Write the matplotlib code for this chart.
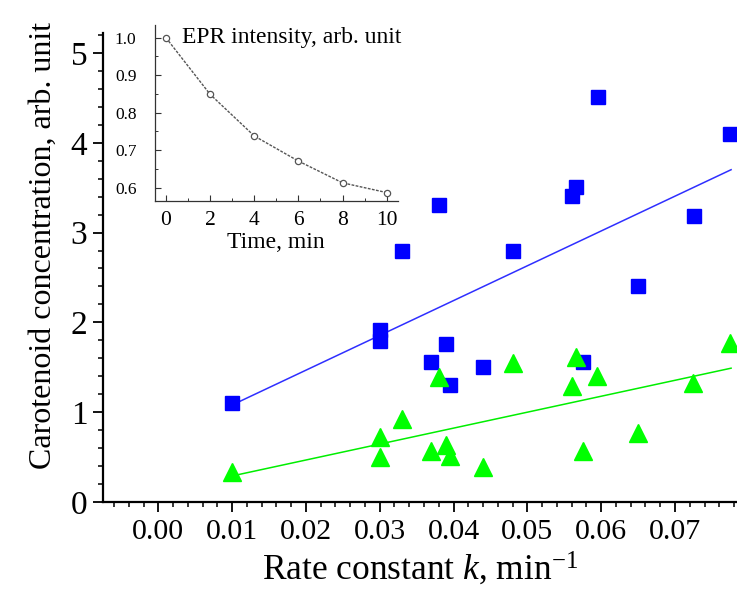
import matplotlib
matplotlib.use("Agg")
import matplotlib.pyplot as plt
from matplotlib.ticker import MultipleLocator, FixedLocator

plt.rcParams['font.family'] = ['Liberation Serif', 'DejaVu Serif']
plt.rcParams['mathtext.fontset'] = 'custom'
plt.rcParams['mathtext.rm'] = 'Liberation Serif'
plt.rcParams['mathtext.it'] = 'Liberation Serif:italic'

# ---- data ----
blue_k = [0.010, 0.030, 0.030, 0.033, 0.037, 0.038, 0.039, 0.0395, 0.044,
          0.048, 0.056, 0.0566, 0.0575, 0.0596, 0.065, 0.0726, 0.0775]
blue_c = [1.10, 1.92, 1.79, 2.80, 1.556, 3.31, 1.76, 1.303, 1.507,
          2.80, 3.41, 3.51, 1.556, 4.51, 2.40, 3.18, 4.10]
green_k = [0.010, 0.030, 0.030, 0.033, 0.037, 0.038, 0.039, 0.0395, 0.044,
           0.048, 0.056, 0.0566, 0.0575, 0.0595, 0.065, 0.0725, 0.0775]
green_c = [0.33, 0.72, 0.505, 0.92, 0.571, 1.389, 0.635, 0.512, 0.393,
           1.55, 1.29, 1.62, 0.571, 1.40, 0.765, 1.33, 1.77]
fit_k = [0.010, 0.0776]
blue_fit = [1.08, 3.70]
green_fit = [0.29, 1.49]

time_min = [0, 2, 4, 6, 8, 10]
epr = [1.0, 0.849, 0.738, 0.671, 0.613, 0.587]

x_ticks = [0.00, 0.01, 0.02, 0.03, 0.04, 0.05, 0.06, 0.07]
y_ticks = [0, 1, 2, 3, 4, 5]
inset_xticks = [0, 2, 4, 6, 8, 10]
inset_yticks = [0.6, 0.7, 0.8, 0.9, 1.0]

# ---- figure ----
W, H = 737, 591
fig = plt.figure(figsize=(W / 100, H / 100), dpi=100)

def px(l, t, r, b):
    return [l / W, 1 - b / H, (r - l) / W, (b - t) / H]

ax = fig.add_axes(px(102.7, 33.2, 737, 502))
ax.plot(fit_k, blue_fit, color='#2f2fff', lw=1.1, zorder=2)
ax.plot(fit_k, green_fit, color='#00ee00', lw=1.1, zorder=2)
ax.plot(blue_k, blue_c, ls='none', marker='s', ms=9.8, color='#0000ff',
        mec='#0000ff', zorder=3)
ax.plot(green_k, green_c, ls='none', marker='^', ms=12.5, color='#00ff00',
        mec='#00ff00', zorder=4)

ax.set_xlim(-0.00753, 0.0784)
ax.set_ylim(0, 5.22)
ax.xaxis.set_major_locator(FixedLocator(x_ticks))
ax.set_xticklabels([f"{v:.2f}" for v in x_ticks])
ax.xaxis.set_minor_locator(MultipleLocator(0.002))
ax.yaxis.set_major_locator(FixedLocator(y_ticks))
ax.set_yticklabels([str(v) for v in y_ticks])
ax.yaxis.set_minor_locator(MultipleLocator(0.2))
for s in ['top', 'right']:
    ax.spines[s].set_visible(False)
for s in ['left', 'bottom']:
    ax.spines[s].set_linewidth(1.6)
ax.tick_params(axis='both', which='major', direction='out', length=7, width=1.3)
ax.tick_params(axis='both', which='minor', direction='out', length=3.5, width=1.1)
ax.tick_params(axis='x', which='major', labelsize=21.5, pad=5)
ax.tick_params(axis='y', which='major', labelsize=24, pad=4)
ax.set_xlabel(r"Rate constant $k$, min$^{-1}$", fontsize=25.5, labelpad=4)
ax.set_ylabel("Carotenoid concentration, arb. unit", fontsize=23)
# y label: right edge near x=58 px, centred at y=245 px
ax.yaxis.set_label_coords((58 - 102.7) / (737 - 102.7), (502 - 245) / (502 - 33.2))

# ---- inset ----
ins = fig.add_axes(px(154.5, 25, 397.7, 201))
ins.patch.set_alpha(0)
ins.plot(time_min, epr, color='#555555', lw=1.0, ls=(0, (2, 1)),
         marker='o', ms=4.5, mfc='white', mec='#555555', mew=0.9)
ins.set_xlim(-0.52, 10.5)
ins.set_ylim(0.5645, 1.034)
ins.xaxis.set_major_locator(FixedLocator(inset_xticks))
ins.xaxis.set_minor_locator(MultipleLocator(1))
ins.yaxis.set_major_locator(FixedLocator(inset_yticks))
ins.set_yticklabels([f"{v:.1f}" for v in inset_yticks])
ins.yaxis.set_minor_locator(MultipleLocator(0.05))
for s in ['top', 'right']:
    ins.spines[s].set_visible(False)
for s in ['left', 'bottom']:
    ins.spines[s].set_linewidth(0.9)
    ins.spines[s].set_color('#333333')
ins.tick_params(axis='both', which='major', direction='in', length=4, width=0.8,
                color='#333333')
ins.tick_params(axis='both', which='minor', direction='in', length=2.5, width=0.7,
                color='#333333')
ins.tick_params(axis='x', which='major', labelsize=15.5, pad=7)
ins.tick_params(axis='y', which='major', labelsize=12.5, pad=13)
ins.set_xlabel("Time, min", fontsize=17, labelpad=2)
ins.text(0.115, 0.93, "EPR intensity, arb. unit", transform=ins.transAxes,
         fontsize=17, ha='left', va='center', clip_on=False)

fig.savefig("out.png", dpi=100)
